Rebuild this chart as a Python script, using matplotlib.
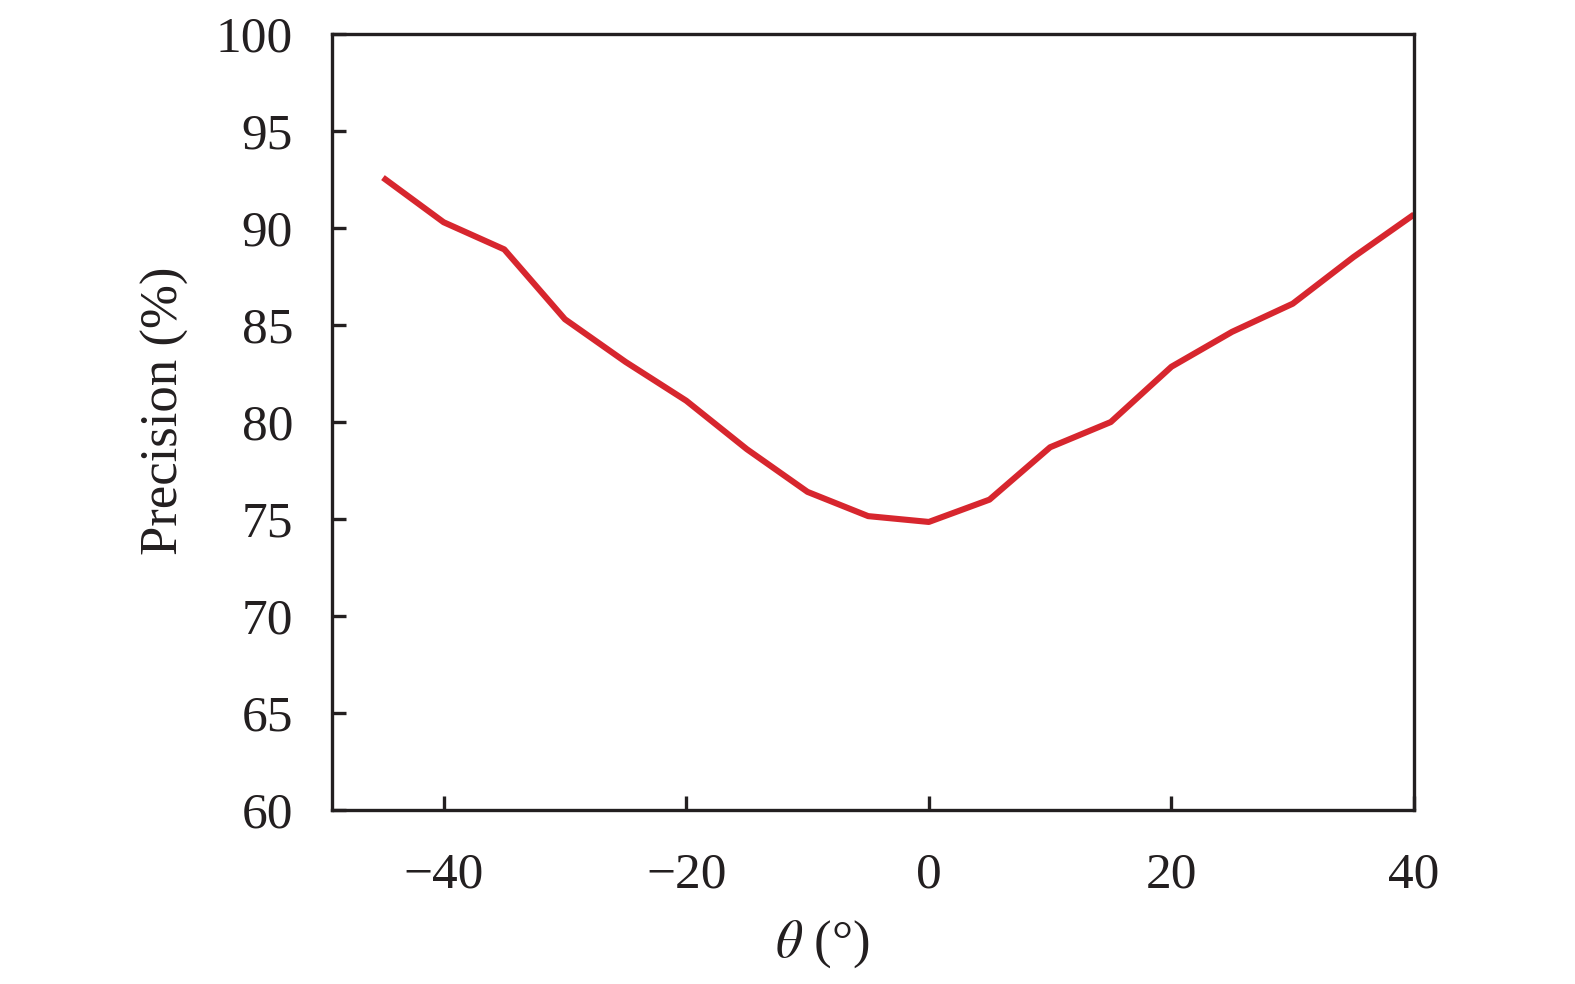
import numpy as np
import matplotlib
matplotlib.use("Agg")
import matplotlib.pyplot as plt

# precision vs. angle
theta = [-45, -40, -35, -30, -25, -20, -15, -10, -5, 0,
         5, 10, 15, 20, 25, 30, 35, 40]
precision = [92.6, 90.3, 88.9, 85.3, 83.1, 81.1, 78.6, 76.4, 75.15, 74.85,
             76.0, 78.7, 80.0, 82.85, 84.65, 86.1, 88.5, 90.7]

xticks = [-40, -20, 0, 20, 40]
yticks = [60, 65, 70, 75, 80, 85, 90, 95, 100]

plt.rcParams['font.family'] = ['Liberation Serif', 'DejaVu Serif']
plt.rcParams['mathtext.fontset'] = 'stix'

fig = plt.figure(figsize=(15.75, 9.84), dpi=100)
ax = fig.add_axes([0.2108, 0.1768, 0.6870, 0.7886])

ax.plot(theta, precision, color='#d7262e', linewidth=4.4, solid_capstyle='butt')

ax.set_xlim(-49.2, 40)
ax.set_ylim(60, 100)
ax.set_xticks(xticks)
ax.set_yticks(yticks)
ax.set_xticklabels([f"\u2212{abs(t)}" if t < 0 else str(t) for t in xticks])

ax.tick_params(direction='in', length=10, width=2.4, labelsize=37,
               colors='#231f20')
ax.tick_params(axis='y', pad=28)
ax.tick_params(axis='x', pad=30)
for s in ax.spines.values():
    s.set_linewidth(2.4)
    s.set_color('#231f20')

ax.set_xlabel(r"$\theta$ (°)", fontsize=38, color='#231f20')
ax.xaxis.set_label_coords(0.453, -0.14)
ax.set_ylabel("Precision (%)", fontsize=38, color='#231f20')
ax.yaxis.set_label_coords(-0.132, 0.515)

fig.savefig("out.png", dpi=100)
